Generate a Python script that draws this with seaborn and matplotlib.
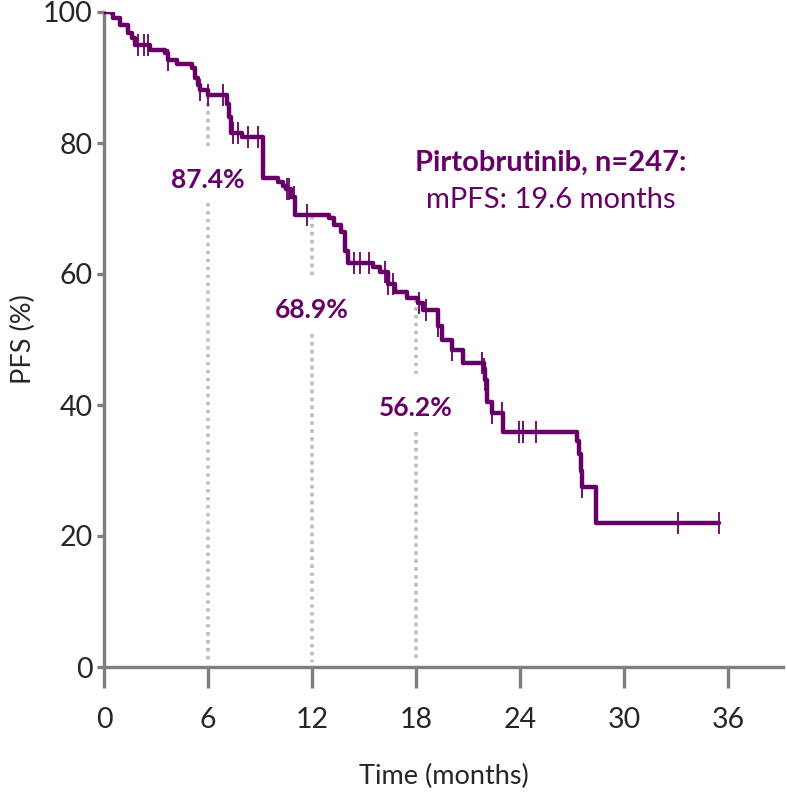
import numpy as np
import pandas as pd
import matplotlib.pyplot as plt
import seaborn as sns

# Kaplan-Meier steps (months, PFS %)
times = [0, 0.46, 0.52, 0.92, 1.38, 1.62, 1.79, 2.65, 3.52, 3.69, 4.21, 5.08,
         5.25, 5.4, 5.54, 6.0, 7.1, 7.2, 7.3, 7.96, 9.17, 10.04, 10.3, 10.5,
         10.8, 11.0, 13.0, 13.3, 13.7, 13.9, 14.1, 15.5, 15.9, 16.4, 16.8,
         17.5, 18.1, 18.4, 19.3, 19.5, 20.1, 20.7, 21.9, 22.0, 22.1, 22.4,
         23.0, 27.3, 27.4, 27.5, 27.6, 28.4, 35.5]
pfs = [100, 99.8, 99.1, 98.0, 96.8, 96.0, 95.0, 94.2, 93.7, 92.7, 92.0, 91.4,
       90.0, 88.8, 88.1, 87.3, 86.0, 84.0, 81.6, 80.9, 74.7, 74.0, 73.5, 73.0,
       71.8, 69.0, 68.6, 67.5, 66.4, 63.5, 61.7, 61.0, 60.3, 58.5, 57.3,
       56.3, 55.5, 54.5, 52.0, 49.9, 48.4, 46.4, 45.5, 43.8, 40.5, 38.8,
       35.9, 34.5, 32.5, 30.0, 27.5, 22.0, 22.0]

censor_times = [1.96, 2.31, 2.54, 3.69, 5.54, 6.0, 6.87, 7.44, 7.73, 8.31, 8.89,
                10.56, 10.7, 10.96, 11.7, 14.4, 14.8, 15.3, 16.2, 16.4, 16.7,
                18.2, 18.6, 19.3, 20.1, 21.8, 21.9, 22.0, 22.4, 22.95, 23.95,
                24.2, 24.9, 27.6, 33.1, 35.5]

landmarks = [6, 12, 18]
landmark_pfs = [87.4, 68.9, 56.2]
landmark_labels = ['87.4%', '68.9%', '56.2%']
label_y = [74.4, 54.5, 39.5]

purple = '#660066'
grey = '#7f7f7f'

sns.set_style('white')
plt.rcParams['font.family'] = ['Lato', 'DejaVu Sans']

fig = plt.figure(figsize=(7.87, 7.92), dpi=100)
ax = fig.add_axes([104 / 787, 1 - 667 / 792, (783 - 104) / 787, (667 - 12) / 792])

# dotted landmark lines, with a gap around each label
for x, top, ly, lab in zip(landmarks, landmark_pfs, label_y, landmark_labels):
    ax.plot([x, x], [top, ly + 4.8], ls=(0, (1, 1.2)), color='#bfbfbf', lw=2.6, zorder=1)
    ax.plot([x, x], [ly - 3.6, 0.7], ls=(0, (1, 1.2)), color='#bfbfbf', lw=2.6, zorder=1)
    ax.text(x, ly, lab, ha='center', va='center', color=purple,
            fontsize=19, fontweight='bold')

km = pd.DataFrame({'time': times, 'pfs': pfs})
sns.lineplot(data=km, x='time', y='pfs', drawstyle='steps-post', color=purple,
             lw=3.2, estimator=None, sort=False, ax=ax, zorder=3)

# censor marks sit on the step curve
idx = np.searchsorted(times, censor_times, side='right') - 1
cens = pd.DataFrame({'time': censor_times, 'pfs': np.array(pfs)[idx]})
sns.scatterplot(data=cens, x='time', y='pfs', marker='|', s=260, color=purple,
                linewidth=1.3, ax=ax, zorder=4, clip_on=False)

ax.text(0.658, 0.769, 'Pirtobrutinib, n=247:', transform=ax.transAxes, ha='center',
        va='center', color=purple, fontsize=21, fontweight='bold')
ax.text(0.658, 0.713, 'mPFS: 19.6 months', transform=ax.transAxes, ha='center',
        va='center', color=purple, fontsize=21)

ax.set_xlim(0, 39.18)
ax.set_ylim(0, 100)
ax.set_xticks(range(0, 37, 6))
ax.set_yticks(range(0, 101, 20))

sns.despine(ax=ax)
for side in ['left', 'bottom']:
    ax.spines[side].set_color(grey)
    ax.spines[side].set_linewidth(2.4)
ax.tick_params(axis='x', direction='out', length=15, width=2.4, color=grey,
               pad=14, labelsize=20.5, bottom=True)
ax.tick_params(axis='y', direction='out', length=5, width=2.4, color=grey,
               pad=3, labelsize=20.5, left=True)

ax.set_xlabel('Time (months)', fontsize=19.5, labelpad=22)
ax.set_ylabel('PFS (%)', fontsize=19.5, labelpad=5)

fig.savefig('out.png', dpi=100)
